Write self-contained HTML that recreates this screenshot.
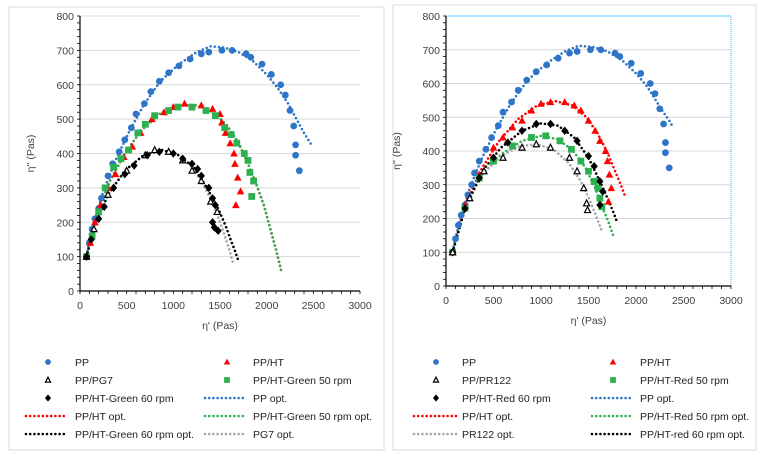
<!DOCTYPE html>
<html><head><meta charset="utf-8">
<style>
html,body{margin:0;padding:0;background:#fff;}
body{width:761px;height:457px;overflow:hidden;font-family:"Liberation Sans",sans-serif;}
svg text{font-family:"Liberation Sans",sans-serif;}
</style></head>
<body>
<svg id="root" width="761" height="457" viewBox="0 0 761 457">
  <rect x="9" y="7" width="375" height="443" fill="#fff" stroke="#d9d9d9"/>
  <rect x="393" y="5" width="363" height="445" fill="#fff" stroke="#d9d9d9"/>
  <g id="left"></g>
  <g id="right"></g>
  <g id="legL"></g>
  <g id="legR"></g>
</svg>
<script>
// ---- data (x = eta' Pas, y = eta'' Pas) ----
const xTicks = [0,500,1000,1500,2000,2500,3000];
const yTicks = [0,100,200,300,400,500,600,700,800];
const ppX = [70,100,130,160,200,230,270,300,350,420,480,550,600,690,760,850,950,1060,1180,1300,1380,1520,1630,1780,1830,1950,2050,2150,2200,2250,2290,2310,2310,2350];
const ppY = [100,140,180,210,240,270,300,335,370,405,440,475,515,545,580,610,635,655,675,690,695,700,700,690,680,660,630,600,570,525,480,425,395,350];
const ppOptX = [70,150,250,380,520,680,860,1060,1250,1400,1550,1700,1850,2000,2120,2230,2320,2400,2480];
const ppOptY = [105,200,290,380,460,540,610,660,695,712,708,695,670,630,590,545,500,460,425];
const rPpOptX = [70,150,250,380,520,680,860,1060,1250,1400,1550,1700,1850,2000,2120,2220,2300,2350,2380];
const rPpOptY = [105,200,290,380,460,540,610,660,695,712,708,695,670,630,590,545,510,490,475];
// left chart
const htX = [70,110,160,220,300,380,470,560,650,770,900,1000,1120,1300,1420,1500,1520,1560,1610,1650,1660,1690,1720,1670];
const htY = [100,140,200,250,300,340,390,420,460,500,520,535,545,540,530,515,490,460,430,400,370,330,290,250];
const g50X = [70,130,200,270,360,440,520,620,700,800,950,1050,1200,1350,1450,1550,1620,1680,1760,1800,1820,1860,1840];
const g50Y = [100,160,230,300,360,385,410,460,485,510,525,535,535,525,510,475,455,430,400,380,345,320,275];
const htOptX = [70,180,320,480,650,850,1050,1250,1430,1580,1700,1800,1890,1970,2040,2100,2160];
const htOptY = [100,220,320,400,465,515,540,540,520,480,430,370,310,250,180,120,55];
const g60X = [70,120,200,260,360,480,580,720,850,1000,1100,1200,1260,1300,1380,1420,1450,1420,1440,1480];
const g60Y = [100,150,210,245,300,340,365,395,405,400,385,370,355,335,300,270,250,200,185,175];
const pg7X = [70,150,300,500,700,800,950,1100,1200,1300,1400,1470];
const pg7Y = [100,180,280,350,395,410,405,380,350,320,260,230];
const g60OptX = [70,160,300,480,680,880,1060,1220,1360,1480,1560,1620,1670,1700];
const g60OptY = [100,190,280,350,395,410,395,360,300,240,190,145,110,85];
const pg7OptX = [70,160,300,480,680,880,1060,1220,1350,1460,1540,1600,1640];
const pg7OptY = [100,190,280,350,395,410,395,355,295,230,170,120,80];
// right chart
const rHtX = [70,200,350,500,600,700,800,900,1000,1100,1250,1350,1420,1500,1570,1620,1680,1700,1720,1740,1710];
const rHtY = [100,240,330,410,440,470,490,520,540,545,545,535,520,490,460,430,400,370,330,290,250];
const rHtOptX = [70,200,380,560,760,960,1150,1330,1480,1600,1700,1780,1840,1880];
const rHtOptY = [100,240,350,430,495,535,548,535,500,450,395,340,300,270];
const r50X = [70,200,350,500,700,900,1050,1200,1320,1420,1500,1560,1600,1620,1640];
const r50Y = [100,230,320,370,415,440,445,430,405,370,340,310,290,260,235];
const r50OptX = [70,200,380,580,800,1000,1180,1340,1470,1570,1650,1710,1760];
const r50OptY = [100,230,330,390,430,445,435,400,350,290,230,190,150];
const r60X = [70,200,350,500,650,800,950,1100,1250,1380,1500,1560,1620,1650,1620];
const r60Y = [100,230,320,380,425,460,480,480,460,430,385,355,310,280,240];
const r60OptX = [70,200,380,580,800,1000,1180,1350,1500,1620,1700,1760,1800];
const r60OptY = [100,230,340,410,460,482,475,440,380,310,260,220,190];
const prX = [70,250,400,600,800,950,1100,1300,1380,1450,1480,1490];
const prY = [100,260,340,380,410,420,410,380,340,290,245,225];
const prOptX = [70,200,380,580,780,960,1130,1290,1420,1520,1590,1630,1650];
const prOptY = [100,230,330,385,415,420,405,365,310,250,200,170,160];

const NS = "http://www.w3.org/2000/svg";
function mk(tag, attrs, parent){
  const e = document.createElementNS(NS, tag);
  for (const k in attrs) e.setAttribute(k, attrs[k]);
  parent.appendChild(e);
  return e;
}
const BLUE="#2e75c8", RED="#ff0000", GREEN="#2db04f", BLACK="#000", GRAY="#a6a6a6";
const DOT = "0,4.2";

function marker(g, type, cx, cy, color, s){
  let e;
  if (type==="circle") e = mk("circle",{cx:cx,cy:cy,r:3.4*s,fill:color},g);
  else if (type==="tri") e = mk("polygon",{points:`${cx},${cy-4*s} ${cx-3.8*s},${cy+3*s} ${cx+3.8*s},${cy+3*s}`,fill:color},g);
  else if (type==="otri") e = mk("polygon",{points:`${cx},${cy-3.3*s} ${cx-3*s},${cy+2.5*s} ${cx+3*s},${cy+2.5*s}`,fill:"#fff",stroke:color,"stroke-width":1.2},g);
  else if (type==="sq") e = mk("rect",{x:cx-3.4*s,y:cy-3.4*s,width:6.8*s,height:6.8*s,fill:color},g);
  else if (type==="dia") e = mk("polygon",{points:`${cx},${cy-4.2*s} ${cx+3.6*s},${cy} ${cx},${cy+4.2*s} ${cx-3.6*s},${cy}`,fill:color},g);
  return e;
}

function chart(g, x0, x1, yTop, yBot, series, dotted){
  const sx = v => x0 + (x1-x0)*v/3000;
  const sy = v => yBot - (yBot-yTop)*v/800;
  yTicks.forEach(t=>{
    if (t>0){
      const l = mk("line",{x1:x0,x2:x1,y1:sy(t),y2:sy(t),stroke:"#d9d9d9","stroke-width":1},g);
      
      
    }
    const tx = mk("text",{x:x0-6,y:sy(t)+4,"text-anchor":"end","font-size":10.5,fill:"#404040"},g);
    tx.textContent = t;
    
    
  });
  for (let v=0; v<=800; v+=20){
    mk("line",{x1:x0-3,x2:x0,y1:sy(v),y2:sy(v),stroke:"#000","stroke-width":0.8},g);
  }
  for (let v=0; v<=3000; v+=100){
    mk("line",{x1:sx(v),x2:sx(v),y1:yBot,y2:yBot+3,stroke:"#000","stroke-width":0.8},g);
  }
  xTicks.forEach(t=>{
    const tx = mk("text",{x:sx(t),y:yBot+18,"text-anchor":"middle","font-size":10.5,fill:"#404040"},g);
    tx.textContent = t;
    
    
  });
  if (dotted){
    const b = mk("polyline",{points:`${x0},${yTop} ${x1},${yTop} ${x1},${yBot}`,fill:"none",stroke:"#2fa8e0","stroke-width":1,"stroke-dasharray":"1,1"},g);
    
    
  }
  const ax = mk("line",{x1:x0,x2:x0,y1:yTop,y2:yBot,stroke:"#000","stroke-width":1.2},g);
  
  
  const axx = mk("line",{x1:x0,x2:x1,y1:yBot,y2:yBot,stroke:"#000","stroke-width":1.2},g);
  
  
  const xt = mk("text",{x:(x0+x1)/2,y:yBot+38,"text-anchor":"middle","font-size":10.5,fill:"#404040"},g);
  xt.textContent = "η' (Pas)";
  
  
  const yt = mk("text",{x:0,y:0,"text-anchor":"middle","font-size":10.5,fill:"#404040",transform:`translate(${x0-46},${(yTop+yBot)/2}) rotate(-90)`},g);
  yt.textContent = "η'' (Pas)";
  
  

  series.forEach(s=>{
    const sg = mk("g",{},g);
    
    
    if (s.type==="line"){
      const pts = s.x.map((v,i)=>`${sx(v)},${sy(s.y[i])}`).join(" ");
      const pl = mk("polyline",{points:pts,fill:"none",stroke:s.color,"stroke-width":2.6,"stroke-linecap":"round","stroke-dasharray":DOT},sg);
      
      
    } else {
      s.x.forEach((v,i)=>{
        const m = marker(sg, s.type, sx(v), sy(s.y[i]), s.color, 1);
        
        
      });
    }
  });
}

chart(document.getElementById("left"), 80, 360, 16, 291, [
  {name:"pp-opt",type:"line",x:ppOptX,y:ppOptY,color:BLUE},
  {name:"pp-ht-opt",type:"line",x:htOptX,y:htOptY,color:RED},
  {name:"pp-ht-green50-opt",type:"line",x:htOptX,y:htOptY,color:GREEN},
  {name:"pg7-opt",type:"line",x:pg7OptX,y:pg7OptY,color:GRAY},
  {name:"pp-ht-green60-opt",type:"line",x:g60OptX,y:g60OptY,color:BLACK},
  {name:"pp-series",type:"circle",x:ppX,y:ppY,color:BLUE},
  {name:"pp-ht-series",type:"tri",x:htX,y:htY,color:RED},
  {name:"pp-ht-green50-series",type:"sq",x:g50X,y:g50Y,color:GREEN},
  {name:"pp-pg7-series",type:"otri",x:pg7X,y:pg7Y,color:BLACK},
  {name:"pp-ht-green60-series",type:"dia",x:g60X,y:g60Y,color:BLACK}
], false);

chart(document.getElementById("right"), 446, 731, 16, 286, [
  {name:"pp-opt",type:"line",x:rPpOptX,y:rPpOptY,color:BLUE},
  {name:"pp-ht-opt",type:"line",x:rHtOptX,y:rHtOptY,color:RED},
  {name:"pp-ht-red50-opt",type:"line",x:r50OptX,y:r50OptY,color:GREEN},
  {name:"pr122-opt",type:"line",x:prOptX,y:prOptY,color:GRAY},
  {name:"pp-ht-red60-opt",type:"line",x:r60OptX,y:r60OptY,color:BLACK},
  {name:"pp-series",type:"circle",x:ppX,y:ppY,color:BLUE},
  {name:"pp-ht-series",type:"tri",x:rHtX,y:rHtY,color:RED},
  {name:"pp-ht-red50-series",type:"sq",x:r50X,y:r50Y,color:GREEN},
  {name:"pp-ht-red60-series",type:"dia",x:r60X,y:r60Y,color:BLACK},
  {name:"pp-pr122-series",type:"otri",x:prX,y:prY,color:BLACK}
], true);

function legend(g, mx, tx, lx0, lx1, mx2, tx2, lx20, lx21, items){
  const rows = [362,380,398,416,434];
  items.forEach((it,i)=>{
    const col = i%2, row = Math.floor(i/2);
    const y = rows[row];
    const eg = mk("g",{},g);
    
    
    const m = col===0?mx:mx2, t = col===0?tx:tx2;
    if (it.type==="line"){
      const a = col===0?lx0:lx20, b = col===0?lx1:lx21;
      mk("line",{x1:a,x2:b,y1:y,y2:y,stroke:it.color,"stroke-width":2.6,"stroke-linecap":"round","stroke-dasharray":DOT},eg);
    } else {
      marker(eg,it.type,m,y,it.color,0.85);
    }
    const te = mk("text",{x:t,y:y+4,"font-size":10.5,fill:"#222"},eg);
    te.textContent = it.label;
  });
}
legend(document.getElementById("legL"), 48, 75, 26, 66, 227, 253, 205, 245, [
  {type:"circle",color:BLUE,label:"PP"},{type:"tri",color:RED,label:"PP/HT"},
  {type:"otri",color:BLACK,label:"PP/PG7"},{type:"sq",color:GREEN,label:"PP/HT-Green 50 rpm"},
  {type:"dia",color:BLACK,label:"PP/HT-Green 60 rpm"},{type:"line",color:BLUE,label:"PP opt."},
  {type:"line",color:RED,label:"PP/HT opt."},{type:"line",color:GREEN,label:"PP/HT-Green 50 rpm opt."},
  {type:"line",color:BLACK,label:"PP/HT-Green 60 rpm opt."},{type:"line",color:GRAY,label:"PG7 opt."}
]);
legend(document.getElementById("legR"), 436, 462, 414, 456, 613, 640, 592, 633, [
  {type:"circle",color:BLUE,label:"PP"},{type:"tri",color:RED,label:"PP/HT"},
  {type:"otri",color:BLACK,label:"PP/PR122"},{type:"sq",color:GREEN,label:"PP/HT-Red 50 rpm"},
  {type:"dia",color:BLACK,label:"PP/HT-Red 60 rpm"},{type:"line",color:BLUE,label:"PP opt."},
  {type:"line",color:RED,label:"PP/HT opt."},{type:"line",color:GREEN,label:"PP/HT-Red 50 rpm opt."},
  {type:"line",color:GRAY,label:"PR122 opt."},{type:"line",color:BLACK,label:"PP/HT-red 60 rpm opt."}
]);
</script>
</body></html>
